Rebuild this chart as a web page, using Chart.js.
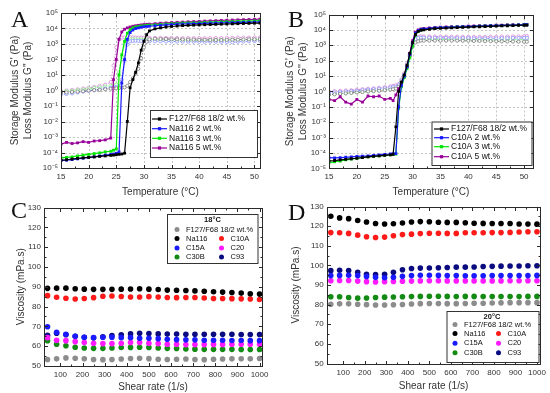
<!DOCTYPE html>
<html>
<head>
<meta charset="utf-8">
<script src="https://cdn.jsdelivr.net/npm/chart.js@4.4.1/dist/chart.umd.min.js"></script>
<style>
  html, body { margin: 0; padding: 0; background: #fff; }
  #wrap { position: relative; width: 550px; height: 393px; overflow: hidden; }
  #wrap canvas { position: absolute; left: 0; top: 0; }
  .tag { position: absolute; font-family: "Liberation Serif", "Times New Roman", serif; font-size: 24px; line-height: 1; color: #111; }
</style>
</head>
<body>
<div id="wrap">
  <canvas id="chartA" width="550" height="393"></canvas>
  <canvas id="chartB" width="550" height="393"></canvas>
  <canvas id="chartC" width="550" height="393"></canvas>
  <canvas id="chartD" width="550" height="393"></canvas>
  <div class="tag" style="left:11px;top:7px">A</div>
  <div class="tag" style="left:288px;top:7px">B</div>
  <div class="tag" style="left:11px;top:198px">C</div>
  <div class="tag" style="left:288px;top:200px">D</div>
</div>
<script>
// ---- panel A: temperature sweep, Na116 ----
const tempA = [15,16,17,18,19,20,21,22,23,24,24.5,25,25.5,26,26.5,27,27.5,28,28.5,29,29.5,30,30.5,31,32,33,34,35,36,37,38,39,40,41,42,43,44,45,46,47,48,49,50,51];
const storF127A = [3.2e-5,3.4e-5,3.8e-5,4.2e-5,4.5e-5,4.8e-5,5.2e-5,5.6e-5,6e-5,6.5e-5,
  6.8e-5,7.2e-5,7.6e-5,8e-5,9e-5,1e-2,1.5,5,15,60,400,1500,4000,7000,
  9500,11000,12500,13500,14500,15500,16000,16500,17000,17500,18000,18500,19000,19500,20000,20500,21000,21500,22000,22500];
const storNa2 = [3e-5,3.2e-5,3.5e-5,3.9e-5,4.3e-5,4.8e-5,5.3e-5,6e-5,6.8e-5,7.5e-5,
  8e-5,9e-5,1.1e-4,3,100,2000,5500,8000,10000,11000,12000,13000,13500,14000,
  15000,16000,17000,18000,19000,19500,20000,20500,21000,21500,22000,22500,23000,23500,24000,24500,25000,25500,26000,27000];
const storNa3 = [4.5e-5,4.8e-5,5.2e-5,6e-5,6.8e-5,7.5e-5,8.5e-5,9.5e-5,1.1e-4,1.2e-4,
  1.4e-4,1.7e-4,10,200,1500,5000,8500,11000,12500,13500,14500,15000,16000,16500,
  17500,18500,19500,20500,21500,22500,23000,23500,24000,25000,25500,26000,27000,27500,28000,29000,29500,30000,31000,32000];
const storNa5 = [3.5e-4,4.5e-4,3.8e-4,4.2e-4,5e-4,4.5e-4,5.5e-4,5.8e-4,6.5e-4,8.5e-4,
  5,100,2000,6000,9000,11000,12500,14000,15000,16000,17000,18000,18500,19000,
  20500,22000,23000,24000,25000,26000,27000,28000,29000,30000,31000,32000,33000,34000,35000,36000,37000,38000,39000,40000];
const lossF127A = [0.7,0.75,0.8,0.85,0.9,1.0,1.05,1.1,1.2,1.3,
  1.35,1.4,1.45,1.5,1.6,2,3.5,6,12,25,120,600,1400,2000,
  2200,2100,2100,2000,2000,1950,1900,1900,1850,1850,1800,1800,1800,1850,1900,1900,1950,2000,2000,2050];
const lossNa2 = [0.55,0.6,0.65,0.75,0.85,0.95,1.05,1.2,1.35,1.5,
  1.6,1.7,1.8,5,80,900,1500,1600,1600,1600,1550,1550,1500,1500,
  1500,1500,1450,1450,1450,1400,1400,1400,1400,1400,1400,1400,1350,1350,1300,1400,1450,1500,1550,1600];
const lossNa3 = [0.85,0.9,0.95,1.05,1.15,1.3,1.45,1.6,1.8,2.0,
  2.2,2.4,15,150,1000,1800,2000,2000,2000,1950,1950,1900,1900,1900,
  1900,1850,1850,1800,1800,1800,1800,1750,1750,1750,1750,1800,1800,1800,1850,1850,1900,1900,1950,2000];
const lossNa5 = [0.95,1.0,1.1,1.2,1.35,1.5,1.7,2.0,2.4,3.5,
  40,600,2000,2600,2700,2700,2700,2650,2600,2600,2600,2550,2550,2500,
  2500,2500,2450,2450,2400,2400,2400,2400,2400,2400,2400,2450,2450,2500,2500,2550,2600,2600,2650,2700];
const namesA = ['F127/F68 18/2 wt.%', 'Na116 2 wt.%', 'Na116 3 wt.%', 'Na116 5 wt.%'];

// ---- panel B: temperature sweep, C10A ----
const tempB = [15,16,17,18,19,20,21,22,23,24,25,26,26.5,27,27.5,28,28.5,29,29.5,30,30.5,31,31.5,32,33,34,35,36,37,38,39,40,41,42,43,44,45,46,47,48,49,50,50.5];
const storF127B = [3e-5,3.2e-5,3.5e-5,3.8e-5,4.2e-5,4.5e-5,5e-5,5.5e-5,6e-5,6.5e-5,7e-5,7.5e-5,
  8e-5,5e-3,1,4,12,50,300,1500,5000,8000,9500,
  10000,11000,12000,12500,13000,13500,14000,14500,15000,15500,16000,16500,17000,17500,18000,18500,19000,19500,20000,20000];
const storC10A2 = [5e-5,4.8e-5,5e-5,5.2e-5,5.5e-5,6e-5,6.2e-5,6.5e-5,7e-5,7.5e-5,8e-5,8.5e-5,
  8.8e-5,9e-5,0.1,2.5,10,40,250,1500,6000,9000,10500,
  11500,12500,13500,14000,14500,15000,15500,16000,16500,17000,17500,18000,18500,19000,19500,20000,20500,21000,21500,22000];
const storC10A3 = [2.3e-5,2.6e-5,3e-5,3.5e-5,4e-5,4.5e-5,5e-5,5.5e-5,6e-5,6.5e-5,7e-5,7.5e-5,
  8e-5,8.5e-5,0.08,2,8,30,150,900,4500,8000,10000,
  11000,12000,13000,14000,14500,15000,15500,16000,16500,17000,17500,18000,18500,19000,19500,20000,20500,21000,21500,22000];
const storC10A5 = [0.3,0.25,0.45,0.2,0.15,0.3,0.2,0.5,0.45,0.5,0.3,0.35,
  0.25,0.6,1.5,3,10,40,300,2000,7000,10000,11500,
  12500,13500,14500,15000,15500,16000,16500,17000,17500,18000,18500,19000,19500,20000,20500,21000,21500,22000,22500,23000];
const lossF127B = [0.6,0.65,0.7,0.75,0.8,0.85,0.9,1.0,1.05,1.1,1.2,1.3,
  1.4,1.5,2,4,10,40,200,800,1500,1800,2000,
  2000,2000,2000,2000,2000,2000,2000,1950,1950,1900,1900,1850,1850,1800,1800,1750,1750,1700,1700,1700];
const lossC10A2 = [0.8,0.85,0.9,1.0,1.05,1.1,1.2,1.3,1.4,1.5,1.6,1.8,
  1.9,2,2.5,5,12,50,250,1200,2500,3000,3100,
  3100,3100,3000,3000,3000,2900,2900,2900,2900,2800,2800,2800,2800,2800,2900,2900,3000,3000,3000,3000];
const lossC10A3 = [0.6,0.65,0.7,0.75,0.8,0.9,0.95,1.0,1.1,1.2,1.3,1.4,
  1.5,1.6,2.2,4,10,40,200,1000,2000,2400,2500,
  2500,2500,2400,2400,2400,2300,2300,2300,2300,2300,2300,2200,2200,2200,2200,2300,2300,2300,2400,2400];
const lossC10A5 = [1.0,1.05,1.1,1.15,1.2,1.3,1.4,1.5,1.6,1.7,1.9,2.1,
  2.3,2.5,3,6,15,60,300,1500,3000,3600,3800,
  3800,3800,3700,3700,3600,3600,3600,3500,3500,3500,3500,3500,3600,3600,3700,3700,3800,3800,3900,4000];
const namesB = ['F127/F68 18/2 wt.%', 'C10A 2 wt.%', 'C10A 3 wt.%', 'C10A 5 wt.%'];

// ---- panels C and D: viscosity vs shear rate ----
const shearRate = [42,83,125,167,208,250,292,333,375,417,458,500,542,583,625,667,708,750,792,833,875,917,958,1000];
const visc18F127 = [53.3,53.6,54.1,53.9,53.6,53.3,53.2,53.3,53.5,53.8,53.9,53.7,53.4,53.3,53.4,53.5,53.3,53.2,53.4,53.5,53.6,53.6,53.6,53.8];
const visc18Na116 = [89.2,89.3,89.3,89.0,88.8,88.7,88.7,88.7,88.8,88.9,89.0,88.8,88.6,88.3,88.2,88.1,87.9,87.7,87.5,87.3,87.1,86.8,86.5,86.3];
const visc18C10A = [85.5,84.7,84.2,83.8,84.1,84.5,85.2,85.3,85.1,84.8,84.8,85.0,84.8,84.6,84.5,84.6,84.6,84.3,84.1,84.1,84.0,83.9,83.8,83.6];
const visc18C15A = [69.8,67.0,66.0,65.0,64.5,64.3,64.5,64.5,64.3,64.3,64.0,64.0,63.8,63.5,63.3,63.2,63.2,63.0,63.0,63.0,62.9,62.9,62.8,62.8];
const visc18C20 = [64.3,63.0,62.8,62.3,61.8,61.5,61.3,61.3,61.5,61.8,61.8,61.5,61.3,61.0,61.0,60.8,60.8,60.8,60.9,60.9,61.0,61.0,61.0,61.0];
const visc18C30B = [62.8,61.0,60.2,59.5,59.1,58.9,58.9,59.1,59.3,59.4,59.5,59.4,59.1,58.9,58.8,58.6,58.5,58.4,58.4,58.4,58.4,58.3,58.3,58.3];
const visc18C93 = [65.5,66.5,65.8,65.0,64.5,64.2,64.8,65.4,65.8,66.2,66.5,66.4,66.2,66.1,66.1,66.0,66.0,66.0,66.0,66.0,66.0,65.9,65.9,65.9];
const visc20F127 = [80.2,80.4,80.4,80.2,80.0,79.8,79.8,79.9,80.1,80.3,80.5,80.6,80.6,80.5,80.5,80.6,80.7,80.7,80.8,80.9,81.0,81.0,81.0,81.0];
const visc20Na116 = [125.0,124.2,123.8,122.9,122.1,121.3,121.1,121.2,121.6,122.1,122.3,122.2,122.0,121.9,121.9,121.7,121.5,121.4,121.3,121.3,121.3,121.1,121.1,121.0];
const visc20C10A = [116.7,116.6,116.3,115.4,114.6,114.2,114.4,115.1,115.7,115.9,116.2,116.4,116.4,116.3,116.3,116.6,116.6,116.6,116.7,116.7,116.8,117.0,117.1,117.1];
const visc20C15A = [94.8,94.9,95.0,94.8,94.3,93.9,93.7,93.9,94.4,94.8,95.0,95.0,94.9,94.8,94.8,94.7,94.7,94.7,94.8,94.8,94.8,94.8,94.8,94.9];
const visc20C20 = [92.2,92.3,92.3,92.0,91.7,91.5,91.7,91.8,91.9,92.0,92.1,92.2,92.2,92.1,92.1,92.1,92.1,92.1,92.1,92.1,92.2,92.2,92.2,92.2];
const visc20C30B = [84.0,84.0,83.6,83.3,83.4,83.6,83.8,83.9,84.0,84.1,84.2,84.3,84.3,84.2,84.1,84.2,84.2,84.1,84.1,84.1,84.1,84.1,84.2,84.2];
const visc20C93 = [97.3,97.5,97.4,96.5,95.5,95.3,95.5,96.5,97.8,98.4,98.6,98.7,98.8,98.9,99.1,99.1,99.2,99.4,99.5,99.6,99.7,99.7,99.8,99.8];
const namesCD = ['F127/F68 18/2 wt.%', 'Na116', 'C10A', 'C15A', 'C20', 'C30B', 'C93'];

// ---- ticks ----
const tempTicks = [15, 20, 25, 30, 35, 40, 45, 50];
const modTicks = [1e-5, 1e-4, 1e-3, 1e-2, 1e-1, 1, 10, 100, 1e3, 1e4, 1e5];
const shearTicks = [100, 200, 300, 400, 500, 600, 700, 800, 900, 1000];
const viscTicks = [50, 60, 70, 80, 90, 100, 110, 120, 130];

const family = '"Liberation Sans", Arial, sans-serif';
const ink = '#333';
const storCols = ['#000000', '#1a1aff', '#00e600', '#990099'];
const lossCols = ['#6e6e6e', '#7d88ff', '#7cf07c', '#d27fd2'];
const dotCols = ['#8c8c8c', '#000000', '#ff1a1a', '#1a1aff', '#ff1aff', '#138a13', '#0b0b80'];

Chart.defaults.font.family = family;
Chart.defaults.color = ink;

const SUP = { '-': '\u207B', '0': '\u2070', '1': '\u00B9', '2': '\u00B2', '3': '\u00B3', '4': '\u2074', '5': '\u2075' };
const powLabel = v => '10' + String(Math.round(Math.log10(v))).split('').map(c => SUP[c]).join('');
const pts = (xs, ys) => xs.map((x, i) => ({ x: x, y: ys[i] }));
const mid = v => v.slice(1).map((e, i) => (e + v[i]) / 2);

// box round the plot, ticks pointing in, dashed grid for the modulus plots
const frameBox = {
  id: 'frameBox',
  beforeDatasetsDraw(chart, args, o) {
    if (!o.grid) return;
    const { ctx, chartArea: a, scales: { x, y } } = chart;
    ctx.save();
    ctx.strokeStyle = '#c4c4c4';
    ctx.lineWidth = 1;
    ctx.setLineDash([2, 2]);
    ctx.beginPath();
    x.ticks.forEach(t => { const p = Math.round(x.getPixelForValue(t.value)) + 0.5; ctx.moveTo(p, a.top); ctx.lineTo(p, a.bottom); });
    y.ticks.forEach(t => { const p = Math.round(y.getPixelForValue(t.value)) + 0.5; ctx.moveTo(a.left, p); ctx.lineTo(a.right, p); });
    ctx.stroke();
    ctx.restore();
  },
  afterDatasetsDraw(chart, args, o) {
    const { ctx, chartArea: a, scales: { x, y } } = chart;
    const L = Math.round(a.left) + 0.5, R = Math.round(a.right) + 0.5;
    const T = Math.round(a.top) + 0.5, B = Math.round(a.bottom) + 0.5;
    ctx.save();
    ctx.strokeStyle = '#2a2a2a';
    ctx.lineWidth = 1;
    ctx.strokeRect(L, T, R - L, B - T);
    ctx.beginPath();
    const xMarks = (vals, len) => vals.forEach(v => {
      const p = Math.round(x.getPixelForValue(v)) + 0.5;
      ctx.moveTo(p, B); ctx.lineTo(p, B - len); ctx.moveTo(p, T); ctx.lineTo(p, T + len);
    });
    const yMarks = (vals, len) => vals.forEach(v => {
      const p = Math.round(y.getPixelForValue(v)) + 0.5;
      ctx.moveTo(L, p); ctx.lineTo(L + len, p); ctx.moveTo(R, p); ctx.lineTo(R - len, p);
    });
    const xv = x.ticks.map(t => t.value), yv = y.ticks.map(t => t.value);
    xMarks(xv, 3.5);
    yMarks(yv, 3.5);
    xMarks(mid(xv), 2);
    if (y.type !== 'logarithmic') yMarks(mid(yv), 2);
    ctx.stroke();
    ctx.restore();
  }
};

// legend box placed inside the plot
const keyBox = {
  id: 'keyBox',
  afterDraw(chart, args, o) {
    if (!o.rect) return;
    const { ctx } = chart;
    const [x1, y1, x2, y2] = o.rect;
    ctx.save();
    ctx.fillStyle = '#fff';
    ctx.fillRect(x1, y1, x2 - x1, y2 - y1);
    ctx.strokeStyle = '#333';
    ctx.lineWidth = 1;
    ctx.strokeRect(x1 + 0.5, y1 + 0.5, x2 - x1, y2 - y1);
    ctx.textBaseline = 'middle';
    if (o.title) {
      ctx.font = 'bold ' + o.size + 'px ' + family;
      ctx.fillStyle = '#111';
      ctx.textAlign = 'center';
      ctx.fillText(o.title, o.titleAt[0], o.titleAt[1]);
    }
    ctx.font = o.size + 'px ' + family;
    ctx.textAlign = 'left';
    o.items.forEach(it => {
      const ds = chart.data.datasets[it.ds];
      if (o.line) {
        ctx.strokeStyle = ds.borderColor;
        ctx.lineWidth = 1.2;
        ctx.beginPath();
        ctx.moveTo(it.x - 7.5, it.y);
        ctx.lineTo(it.x + 7.5, it.y);
        ctx.stroke();
      }
      ctx.fillStyle = ds.backgroundColor;
      if (ds.pointStyle === 'rect') {
        ctx.fillRect(it.x - 1.6, it.y - 1.6, 3.2, 3.2);
      } else {
        ctx.beginPath();
        ctx.arc(it.x, it.y, o.dot, 0, Math.PI * 2);
        ctx.fill();
      }
      ctx.fillStyle = '#111';
      ctx.fillText(ds.label, it.x + o.gap, it.y);
    });
    ctx.restore();
  }
};

function modulusChart(id, pad, yWidth, xMax, temps, stor, loss, names, key) {
  const datasets = [];
  stor.forEach((vals, i) => datasets.push({
    label: names[i], data: pts(temps, vals), showLine: true,
    borderColor: storCols[i], backgroundColor: storCols[i], borderWidth: 1.2,
    pointStyle: 'rect', pointRadius: 2, pointBorderWidth: 0
  }));
  loss.forEach((vals, i) => datasets.push({
    label: names[i] + " G''", data: pts(temps, vals), showLine: true,
    borderColor: lossCols[i], backgroundColor: '#fff', borderWidth: 1, borderDash: [1.5, 1.5],
    pointStyle: 'circle', pointRadius: 1.6, pointBorderWidth: 0.7
  }));
  return new Chart(document.getElementById(id), {
    type: 'scatter',
    data: { datasets: datasets },
    plugins: [frameBox, keyBox],
    options: {
      responsive: false, animation: false, events: [],
      layout: { padding: pad },
      plugins: { legend: { display: false }, tooltip: { enabled: false }, frameBox: { grid: true }, keyBox: key },
      scales: {
        x: {
          type: 'linear', min: 15, max: xMax,
          afterBuildTicks: s => { s.ticks = tempTicks.map(v => ({ value: v })); },
          afterFit: s => { s.height = 32; },
          grid: { display: false, drawTicks: false }, border: { display: false },
          ticks: { color: ink, font: { size: 8 }, padding: 4, maxRotation: 0, autoSkip: false, callback: v => String(v) },
          title: { display: true, text: 'Temperature (\u00B0C)', color: ink, font: { size: 10 }, padding: { top: 0, bottom: 2 } }
        },
        y: {
          type: 'logarithmic', min: 1e-5, max: 1e5,
          afterBuildTicks: s => { s.ticks = modTicks.map(v => ({ value: v })); },
          afterFit: s => { s.width = yWidth; },
          grid: { display: false, drawTicks: false }, border: { display: false },
          ticks: { color: ink, font: { size: 8 }, padding: 3, autoSkip: false, callback: v => powLabel(v) },
          title: { display: true, text: ["Storage Modulus G' (Pa)", "Loss Modulus G'' (Pa)"], color: ink,
                   font: { size: 10, lineHeight: 1.25 }, padding: { top: 9, bottom: 0 } }
        }
      }
    }
  });
}

function viscChart(id, pad, yWidth, xh, xMin, xMax, series, key) {
  const datasets = series.map((vals, i) => ({
    label: namesCD[i], data: pts(shearRate, vals),
    backgroundColor: dotCols[i], borderColor: dotCols[i],
    pointStyle: 'circle', pointRadius: 2.8, pointBorderWidth: 0
  }));
  return new Chart(document.getElementById(id), {
    type: 'scatter',
    data: { datasets: datasets },
    plugins: [frameBox, keyBox],
    options: {
      responsive: false, animation: false, events: [],
      layout: { padding: pad },
      plugins: { legend: { display: false }, tooltip: { enabled: false }, frameBox: { grid: false }, keyBox: key },
      scales: {
        x: {
          type: 'linear', min: xMin, max: xMax,
          afterBuildTicks: s => { s.ticks = shearTicks.map(v => ({ value: v })); },
          afterFit: s => { s.height = xh; },
          grid: { display: false, drawTicks: false }, border: { display: false },
          ticks: { color: ink, font: { size: 8 }, padding: 4, maxRotation: 0, autoSkip: false, callback: v => String(v) },
          title: { display: true, text: 'Shear rate (1/s)', color: ink, font: { size: 10 }, padding: { top: 0, bottom: 0 } }
        },
        y: {
          type: 'linear', min: 50, max: 130,
          afterBuildTicks: s => { s.ticks = viscTicks.map(v => ({ value: v })); },
          afterFit: s => { s.width = yWidth; },
          grid: { display: false, drawTicks: false }, border: { display: false },
          ticks: { color: ink, font: { size: 8 }, padding: 3, autoSkip: false, callback: v => String(v) },
          title: { display: true, text: 'Viscosity (mPa.s)', color: ink, font: { size: 10 }, padding: { top: 15, bottom: 0 } }
        }
      }
    }
  });
}

modulusChart('chartA', { left: 0, top: 13, right: 290, bottom: 193 }, 61, 51,
  tempA, [storF127A, storNa2, storNa3, storNa5], [lossF127A, lossNa2, lossNa3, lossNa5], namesA,
  { rect: [150, 110, 257, 157], size: 8.5, line: true, gap: 9.5,
    items: [{ ds: 0, x: 159.5, y: 119 }, { ds: 1, x: 159.5, y: 128.7 }, { ds: 2, x: 159.5, y: 138.3 }, { ds: 3, x: 159.5, y: 148 }] });

modulusChart('chartB', { left: 275, top: 14.5, right: 17, bottom: 192.7 }, 54, 51.6,
  tempB, [storF127B, storC10A2, storC10A3, storC10A5], [lossF127B, lossC10A2, lossC10A3, lossC10A5], namesB,
  { rect: [431.5, 121.5, 531.5, 165], size: 8.5, line: true, gap: 9.5,
    items: [{ ds: 0, x: 441.5, y: 129 }, { ds: 1, x: 441.5, y: 137.7 }, { ds: 2, x: 441.5, y: 146.7 }, { ds: 3, x: 441.5, y: 156.7 }] });

viscChart('chartC', { left: 0, top: 207.5, right: 288, bottom: 0 }, 44, 27, 26, 1011,
  [visc18F127, visc18Na116, visc18C10A, visc18C15A, visc18C20, visc18C30B, visc18C93],
  { rect: [167, 214, 257.5, 263], size: 7.5, dot: 2.5, gap: 9, title: '18\u00B0C', titleAt: [212.5, 220],
    items: [{ ds: 0, x: 177, y: 229.5 }, { ds: 1, x: 177, y: 238.5 }, { ds: 2, x: 221.5, y: 238.5 },
            { ds: 3, x: 177, y: 248 }, { ds: 4, x: 221.5, y: 248 }, { ds: 5, x: 177, y: 257 }, { ds: 6, x: 221.5, y: 257 }] });

viscChart('chartD', { left: 275, top: 206.5, right: 8.3, bottom: 0.5 }, 51.7, 29, 23, 1016,
  [visc20F127, visc20Na116, visc20C10A, visc20C15A, visc20C20, visc20C30B, visc20C93],
  { rect: [446.5, 311, 538.5, 362], size: 7.5, dot: 2.5, gap: 9, title: '20\u00B0C', titleAt: [492, 316.5],
    items: [{ ds: 0, x: 455, y: 324.5 }, { ds: 1, x: 455, y: 333.5 }, { ds: 2, x: 498.5, y: 333.5 },
            { ds: 3, x: 455, y: 343.3 }, { ds: 4, x: 498.5, y: 343.3 }, { ds: 5, x: 455, y: 352.7 }, { ds: 6, x: 498.5, y: 352.7 }] });
</script>
</body>
</html>
